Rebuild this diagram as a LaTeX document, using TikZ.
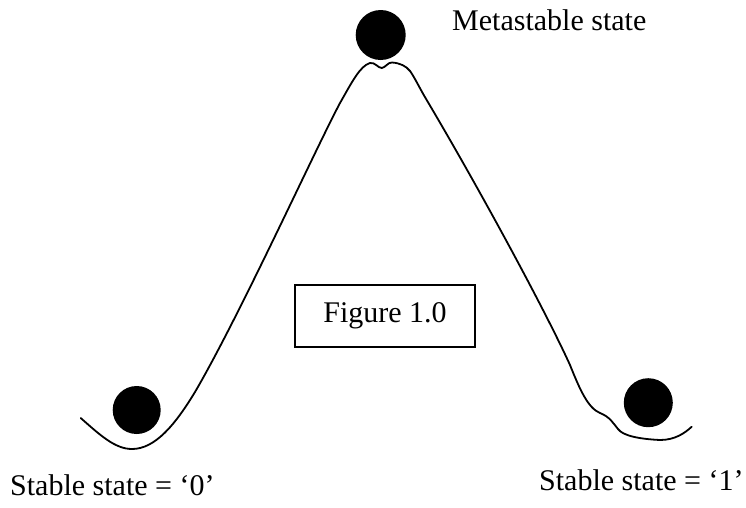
\documentclass[tikz,border=0pt]{standalone}
\usepackage{fontspec}
\setmainfont{Liberation Serif}
\begin{document}
\begin{tikzpicture}[x=1pt,y=-1pt,
  ball/.style={circle,fill=black,inner sep=0pt},
  lbl/.style={anchor=base west,inner sep=0pt,font=\fontsize{30}{36}\selectfont},
  curve/.style={line width=1.8pt,line join=round,line cap=round}]
\useasboundingbox (0,0) rectangle (746,507);
\draw[curve] (80.7,418) .. controls (100,435) and (115,449) .. (132,449)
  .. controls (155,449) and (175,425) .. (195,392)
  .. controls (240,315) and (315,150) .. (340,103)
  .. controls (352,82) and (360,66) .. (370,63)
  .. controls (375,62) and (378,68) .. (381.7,68)
  .. controls (385,68) and (388,62) .. (392,62.5)
  .. controls (400,63) and (406,66) .. (410,71)
  .. controls (415,78) and (420,89) .. (426.7,100)
  .. controls (480,190) and (545,310) .. (570,365)
  .. controls (580,390) and (588,408) .. (600,413)
  .. controls (610,417) and (613,423) .. (618,429)
  .. controls (623,436) and (640,439) .. (660,440)
  .. controls (675,440) and (685,433) .. (691.7,426.7);
\node[ball,minimum size=50pt] (top) at (380.7,35) {};
\node[ball,minimum size=48pt] (left) at (136.7,410) {};
\node[ball,minimum size=49pt] (right) at (648.3,402.7) {};
\node[draw,line width=1.8pt,minimum width=180pt,minimum height=62pt,inner sep=0pt,
  font=\fontsize{30}{36}\selectfont] (fig) at (385,316) {Figure 1.0};
\node[lbl] (meta) at (452,30) {Metastable state};
\node[lbl] (s0) at (10,495) {Stable state = ‘0’};
\node[lbl] (s1) at (539,490) {Stable state = ‘1’};
\end{tikzpicture}
\end{document}
